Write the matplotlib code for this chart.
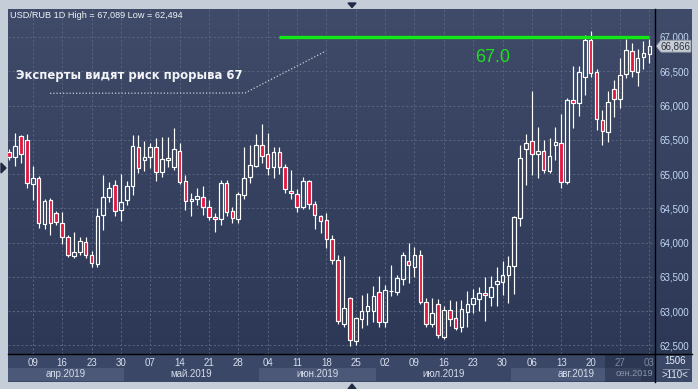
import numpy as np
import pandas as pd
import matplotlib
matplotlib.use("Agg")
import matplotlib.pyplot as plt
from matplotlib.patches import Polygon, Rectangle

plt.rcParams['font.family'] = ['Liberation Sans', 'DejaVu Sans']

# ---------------- data ----------------
dates = pd.bdate_range('2019-04-03', '2019-09-03')

opens = [65.32, 65.25, 65.56, 65.50, 64.85, 64.94, 64.27, 64.62, 64.43, 64.29,
         64.08, 63.81, 63.87, 64.01, 63.82, 63.69, 64.41, 64.66, 64.84, 64.47,
         64.62, 64.82, 65.39, 65.20, 65.25, 65.40, 65.03, 65.21, 65.11, 65.33,
         64.90, 64.61, 64.63, 64.66, 64.52, 64.37, 64.34, 64.87, 64.46, 64.34,
         64.69, 64.96, 65.12, 65.43, 65.29, 65.11, 65.32, 65.11, 64.76, 64.71,
         64.52, 64.90, 64.56, 64.39, 64.33, 64.05, 63.75, 62.82, 63.19, 62.57,
         62.88, 63.01, 63.01, 63.28, 62.85, 63.29, 63.28, 63.47, 63.73, 63.64,
         63.82, 63.13, 62.82, 63.10, 62.62, 63.02, 62.90, 62.77, 62.99, 63.11,
         63.18, 63.27, 63.21, 63.39, 63.43, 63.53, 63.66, 64.36, 65.36, 65.48,
         65.29, 65.33, 65.05, 65.43, 65.45, 64.88, 66.08, 66.04, 66.42, 66.96,
         66.49, 65.79, 65.62, 66.24, 66.09, 66.46, 66.80, 66.49, 66.71, 66.75]
highs = [65.36, 65.60, 65.57, 65.59, 65.12, 64.97, 64.64, 64.65, 64.46, 64.44,
         64.11, 64.15, 64.08, 64.08, 63.88, 64.50, 64.99, 64.89, 64.91, 65.00,
         64.90, 65.57, 65.57, 65.49, 65.45, 65.52, 65.54, 65.54, 65.67, 65.46,
         64.99, 64.72, 64.79, 64.83, 64.62, 64.43, 64.92, 64.92, 64.52, 64.74,
         65.39, 65.42, 65.59, 65.73, 65.60, 65.39, 65.39, 65.15, 65.06, 64.78,
         64.96, 64.91, 64.61, 64.40, 64.43, 64.11, 63.82, 63.80, 63.21, 62.92,
         63.24, 63.26, 63.37, 63.51, 63.38, 63.67, 63.53, 63.86, 64.00, 63.94,
         63.89, 63.19, 63.19, 63.18, 63.08, 63.17, 63.15, 63.17, 63.30, 63.33,
         63.36, 63.50, 63.51, 63.65, 63.73, 63.81, 64.39, 65.42, 65.59, 66.21,
         65.69, 65.50, 65.52, 65.69, 65.88, 66.11, 66.58, 66.58, 67.03, 67.089,
         66.54, 65.94, 66.21, 66.37, 66.69, 66.97, 66.91, 66.82, 66.94, 66.97]
lows = [65.20, 65.12, 65.16, 64.80, 64.62, 64.21, 64.20, 64.11, 64.26, 63.98,
        63.79, 63.77, 63.82, 63.78, 63.65, 63.65, 64.18, 64.60, 64.39, 64.32,
        64.55, 64.70, 65.01, 65.05, 65.09, 64.90, 64.96, 65.11, 65.06, 64.86,
        64.48, 64.39, 64.55, 64.40, 64.33, 64.15, 64.26, 64.39, 64.29, 64.29,
        64.63, 64.87, 65.11, 65.16, 64.99, 64.95, 65.00, 64.73, 64.63, 64.44,
        64.49, 64.49, 64.20, 64.14, 63.92, 63.69, 62.82, 62.77, 62.494, 62.51,
        62.75, 62.80, 62.85, 62.77, 62.77, 63.22, 63.24, 63.38, 63.41, 63.50,
        63.11, 62.77, 62.77, 62.61, 62.59, 62.78, 62.73, 62.70, 62.77, 62.98,
        63.00, 62.86, 63.07, 63.08, 63.24, 63.12, 63.25, 64.25, 64.84, 64.99,
        64.95, 65.02, 65.01, 65.20, 64.79, 64.86, 65.67, 65.85, 66.15, 66.41,
        65.64, 65.43, 65.47, 65.83, 65.97, 66.40, 66.41, 66.29, 66.53, 66.62]
closes = [65.25, 65.41, 65.30, 64.87, 64.94, 64.28, 64.61, 64.28, 64.30, 64.08,
          63.82, 63.87, 64.02, 63.82, 63.70, 64.39, 64.66, 64.79, 64.46, 64.60,
          64.82, 65.41, 65.09, 65.25, 65.39, 65.03, 65.22, 65.23, 65.36, 64.89,
          64.61, 64.63, 64.68, 64.52, 64.37, 64.34, 64.87, 64.45, 64.36, 64.71,
          64.94, 65.13, 65.43, 65.27, 65.09, 65.32, 65.10, 64.78, 64.72, 64.52,
          64.90, 64.56, 64.40, 64.31, 64.06, 63.74, 62.86, 63.04, 62.58, 62.90,
          63.00, 63.08, 63.22, 62.85, 63.31, 63.30, 63.48, 63.82, 63.68, 63.82,
          63.13, 62.82, 62.98, 62.65, 63.02, 62.89, 62.76, 63.03, 63.10, 63.19,
          63.26, 63.23, 63.36, 63.44, 63.53, 63.66, 64.37, 65.23, 65.46, 65.29,
          65.33, 65.06, 65.26, 65.47, 64.89, 66.08, 66.03, 66.49, 66.96, 66.48,
          65.80, 65.63, 66.05, 66.09, 66.45, 66.81, 66.51, 66.70, 66.76, 66.866]

price_levels = [62.5, 63.0, 63.5, 64.0, 64.5, 65.0, 65.5, 66.0, 66.5, 67.0]
day_labels = ["09", "16", "23", "30", "07", "14", "21", "28", "04", "11", "18",
              "25", "02", "09", "16", "23", "30", "06", "13", "20", "27", "03"]
month_labels = ["апр.2019", "май.2019", "июн.2019", "июл.2019", "авг.2019", "сен.2019"]
resistance_level = 67.0
resistance_start = pd.Timestamp('2019-06-06')
annotation = "Эксперты видят риск прорыва 67"
volume_text = "1506"

# ---------------- figure ----------------
W, H = 698, 389
fig = plt.figure(figsize=(W / 100, H / 100), dpi=100, facecolor='#c5cdd9')

bg = fig.add_axes([0, 0, 1, 1])
bg.set_zorder(-2)
bg.axis('off')
top_rgb = np.array([63, 75, 104]) / 255
bot_rgb = np.array([44, 56, 85]) / 255
t = np.linspace(0, 1, 256)[:, None]
grad = (top_rgb * (1 - t) + bot_rgb * t)[:, None, :]
bg.imshow(grad, extent=(8, 692, 354, 9), aspect='auto', interpolation='bilinear')
bg.add_patch(Rectangle((655, 354), 37, 28, color='#3a4766', lw=0))
bg.set_xlim(0, W)
bg.set_ylim(H, 0)

# main candle axes
ax = fig.add_axes([8 / W, (H - 354) / H, 647 / W, 345 / H])
ax.set_zorder(1)
ax.set_facecolor('none')
n = len(dates)
x = np.arange(n)
o = np.array(opens); h = np.array(highs); l = np.array(lows); c = np.array(closes)
up = c >= o
top = np.maximum(o, c)
bot = np.minimum(o, c)
hgt = np.maximum(top - bot, 0.012)

ax.vlines(x, top, h, color='white', lw=0.85, zorder=3)
ax.vlines(x, l, bot, color='white', lw=0.85, zorder=3)
ax.bar(x[up], hgt[up], bottom=bot[up], width=0.62, facecolor='none',
       edgecolor='white', linewidth=0.85, zorder=4)
ax.bar(x[~up], hgt[~up], bottom=bot[~up], width=0.62, facecolor='#e3173f',
       edgecolor='white', linewidth=0.85, zorder=4)

rs = int(np.searchsorted(dates, resistance_start))
ax.hlines(resistance_level, rs - 0.1, n - 1, color='#14e814', lw=2.4, zorder=5)

ax.set_xlim(-0.22, n - 0.04)
ax.set_ylim(62.376, 67.408)

tick_idx = [i for i, d in enumerate(dates) if d.dayofweek == 1]
ax.set_xticks(tick_idx)
ax.set_xticklabels(day_labels)
ax.yaxis.tick_right()
ax.set_yticks(price_levels)
ax.set_yticklabels([f"{v:.3f}".replace('.', ',') for v in price_levels])
ax.tick_params(axis='x', length=0, pad=3.2, labelsize=7, labelcolor='#d6deec')
ax.tick_params(axis='y', length=0, pad=3, labelsize=7, labelcolor='#c2d6f2')
for tl, xi in zip(ax.get_xticklabels(), tick_idx):
    if xi > 101.4:
        tl.set_color('#7d889f')
ax.grid(True, color='#58647f', ls=(0, (2.2, 2.2)), lw=0.7, zorder=0)
for s in ax.spines.values():
    s.set_visible(False)

# bottom date area
axb = fig.add_axes([8 / W, (H - 382) / H, 647 / W, 28 / H], sharex=ax)
axb.set_zorder(0)
axb.set_facecolor('#3a4766')
axb.set_ylim(382, 354)
axb.tick_params(axis='both', which='both', bottom=False, left=False,
                labelbottom=False, labelleft=False)
for s in axb.spines.values():
    s.set_visible(False)
month_nums = [4, 5, 6, 7, 8, 9]
starts = [int(np.argmax(dates.month == m)) for m in month_nums]
ends = starts[1:] + [n]
xmin, xmax = ax.get_xlim()
for k, (s_, e_, lab) in enumerate(zip(starts, ends, month_labels)):
    a = s_ - 0.5
    b = e_ - 0.5
    if k % 2 == 0:
        axb.add_patch(Rectangle((a, 367.5), b - a, 13.5, color='#4b5877', lw=0, zorder=1))
    if k == len(month_labels) - 1:
        axb.text(xmax - 0.3, 374, lab, ha='right', va='center', fontsize=6.6,
                 color='#8994ab', zorder=4)
    else:
        cx = (max(a, xmin) + min(b, xmax)) / 2
        axb.text(cx, 374, lab, ha='center', va='center', fontsize=7,
                 color='#d6deec', zorder=2)
axb.add_patch(Rectangle((101.4, 354), 20, 28, color='#1d2540', alpha=0.45, lw=0, zorder=3))
axb.set_xlim(-0.22, n - 0.04)

# overlay in pixel coordinates
ov = fig.add_axes([0, 0, 1, 1])
ov.set_zorder(3)
ov.axis('off')
ov.set_xlim(0, W)
ov.set_ylim(H, 0)
ov.plot([655, 655], [9, 382], color='black', lw=1.0)
ov.plot([8, 692], [354, 354], color='black', lw=1.0)

title = (f"USD/RUB 1D High = {max(highs):.3f} Low = {min(lows):.3f}").replace('.', ',')
ov.text(10, 15.5, title, fontsize=6.55, color='#eef2f8', va='center', ha='left')

ov.text(16, 75.5, annotation, fontsize=8.4, fontweight='bold', family='DejaVu Sans',
        color='#f2f4f8', va='center', ha='left')
ov.plot([50, 245, 326], [93.3, 93, 51], color='#c9ced8', lw=0.9, ls=(0, (1, 1.6)))
ov.text(493, 57.5, f"{resistance_level:.1f}", fontsize=13, color='#1fe01f',
        ha='center', va='center')

# last price tag
last = closes[-1]
ylast = 37 + (67.0 - last) * 68.56
ov.add_patch(Polygon([[656, ylast], [661, ylast - 6], [691, ylast - 6],
                      [691, ylast + 6], [661, ylast + 6]],
                     closed=True, facecolor='#c9cdd4', edgecolor='#8a93a3', lw=0.6))
ov.text(675.5, ylast + 0.3, f"{last:.3f}".replace('.', ','), fontsize=7,
        color='#2b3242', ha='center', va='center')

ov.text(675, 361.5, volume_text, fontsize=7, color='#e4eaf4', ha='center', va='center')
ov.plot([663, 689], [368.5, 368.5], color='#8c97ad', lw=0.6)
ov.text(675, 375, f">{n}<", fontsize=7, color='#e4eaf4', ha='center', va='center')

# small navigation triangles
ov.add_patch(Polygon([[348, 3], [356, 3], [352, 7.5]], closed=True, color='#1f2a44'))
ov.add_patch(Polygon([[348, 389], [356, 389], [352, 384]], closed=True, color='#1f2a44'))
ov.add_patch(Polygon([[1, 163], [1, 173], [6, 168]], closed=True, color='#1f2a44'))

fig.savefig('out.png', dpi=100, facecolor=fig.get_facecolor())
